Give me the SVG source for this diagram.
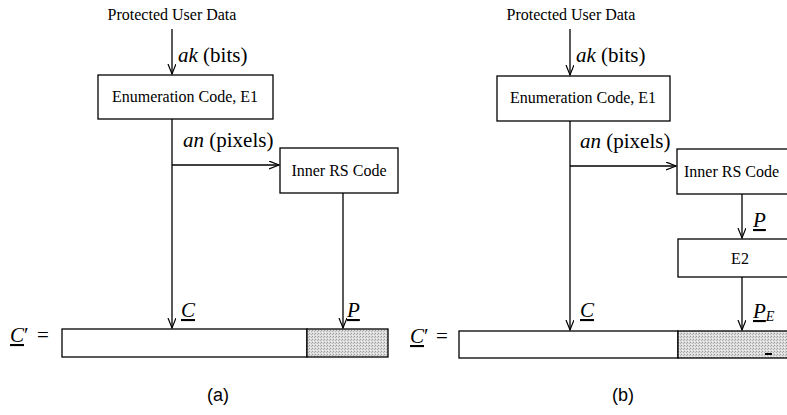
<svg xmlns="http://www.w3.org/2000/svg" width="787" height="415" viewBox="0 0 787 415">
<style>
.bx{fill:#fff;stroke:#000;stroke-width:1.3}
.ln{fill:none;stroke:#000;stroke-width:1.3}
.t{font-family:"Liberation Serif","DejaVu Serif",serif;font-size:16px;fill:#000}
.m{font-family:"Liberation Serif","DejaVu Serif",serif;font-size:21px;fill:#000}
.i{font-style:italic}
.u{text-decoration:underline}
.cap{font-family:"Liberation Sans",Arial,sans-serif;font-size:18px;fill:#000}
.gray{fill:url(#stip);stroke:#000;stroke-width:1.3}
</style>
<defs>
<marker id="ah" markerWidth="12" markerHeight="10" refX="10" refY="4" orient="auto" markerUnits="userSpaceOnUse">
<path d="M0,0 L10,4 L0,8" fill="none" stroke="#000" stroke-width="1.2"/>
</marker>
<pattern id="stip" width="3" height="3" patternUnits="userSpaceOnUse">
<rect width="3" height="3" fill="#dcdcdc"/>
<rect x="0" y="0" width="1" height="1" fill="#999"/>
<rect x="2" y="1" width="1" height="1" fill="#b4b4b4"/>
<rect x="1" y="2" width="1" height="1" fill="#f0f0f0"/>
</pattern>
</defs>

<g id="panel-a">
<g id="a-input"><text class="t" x="172" y="20" text-anchor="middle">Protected User Data</text></g>
<g id="a-e1">
<rect class="bx" x="98" y="75" width="175" height="44"/>
<text class="t" x="185" y="102" text-anchor="middle">Enumeration Code, E1</text>
</g>
<g id="a-rs">
<rect class="bx" x="280" y="148" width="118" height="45"/>
<text class="t" x="339" y="176" text-anchor="middle">Inner RS Code</text>
</g>
<g id="a-bar">
<rect class="bx" x="62" y="329" width="245" height="28"/>
<rect class="gray" x="307" y="329" width="81" height="28"/>
<text class="m" x="10" y="342"><tspan class="i u">C</tspan>′</text>
<text class="m" x="37" y="342">=</text>
</g>
<g id="a-connectors">
<line class="ln" x1="172" y1="29" x2="172" y2="74" marker-end="url(#ah)"/>
<line class="ln" x1="172" y1="119" x2="172" y2="328" marker-end="url(#ah)"/>
<line class="ln" x1="172" y1="165" x2="279" y2="165" marker-end="url(#ah)"/>
<line class="ln" x1="343" y1="193" x2="343" y2="328" marker-end="url(#ah)"/>
<text class="m" x="178" y="62"><tspan class="i">ak</tspan> (bits)</text>
<text class="m" x="183" y="147"><tspan class="i">an</tspan> (pixels)</text>
<text class="m" x="181" y="317"><tspan class="i u">C</tspan></text>
<text class="m" x="347" y="317"><tspan class="i u">P</tspan></text>
</g>
<text class="cap" x="218" y="401" text-anchor="middle">(a)</text>
</g>

<g id="panel-b">
<g id="b-input"><text class="t" x="571" y="20" text-anchor="middle">Protected User Data</text></g>
<g id="b-e1">
<rect class="bx" x="497" y="76" width="173" height="45"/>
<text class="t" x="583" y="103" text-anchor="middle">Enumeration Code, E1</text>
</g>
<g id="b-rs">
<rect class="bx" x="677" y="149" width="120" height="45"/>
<text class="t" x="684" y="177">Inner RS Code</text>
</g>
<g id="b-e2">
<rect class="bx" x="678" y="239" width="120" height="38"/>
<text class="t" x="740" y="264" text-anchor="middle">E2</text>
</g>
<g id="b-bar">
<rect class="bx" x="459" y="331" width="219" height="27"/>
<rect class="gray" x="678" y="331" width="120" height="27"/>
<rect x="765" y="353" width="7" height="2" fill="#000"/>
<text class="m" x="410" y="343"><tspan class="i u">C</tspan>′</text>
<text class="m" x="436" y="343">=</text>
</g>
<g id="b-connectors">
<line class="ln" x1="570" y1="29" x2="570" y2="75" marker-end="url(#ah)"/>
<line class="ln" x1="570" y1="121" x2="570" y2="330" marker-end="url(#ah)"/>
<line class="ln" x1="570" y1="166" x2="676" y2="166" marker-end="url(#ah)"/>
<line class="ln" x1="742" y1="194" x2="742" y2="238" marker-end="url(#ah)"/>
<line class="ln" x1="742" y1="277" x2="742" y2="330" marker-end="url(#ah)"/>
<text class="m" x="576" y="62"><tspan class="i">ak</tspan> (bits)</text>
<text class="m" x="580" y="148"><tspan class="i">an</tspan> (pixels)</text>
<text class="m" x="580" y="317"><tspan class="i u">C</tspan></text>
<text class="m" x="753" y="227"><tspan class="i u">P</tspan></text>
<text class="m" x="753" y="318"><tspan class="i u">P</tspan><tspan class="i" font-size="14" dy="3">E</tspan></text>
</g>
<text class="cap" x="623" y="401" text-anchor="middle">(b)</text>
</g>
</svg>
